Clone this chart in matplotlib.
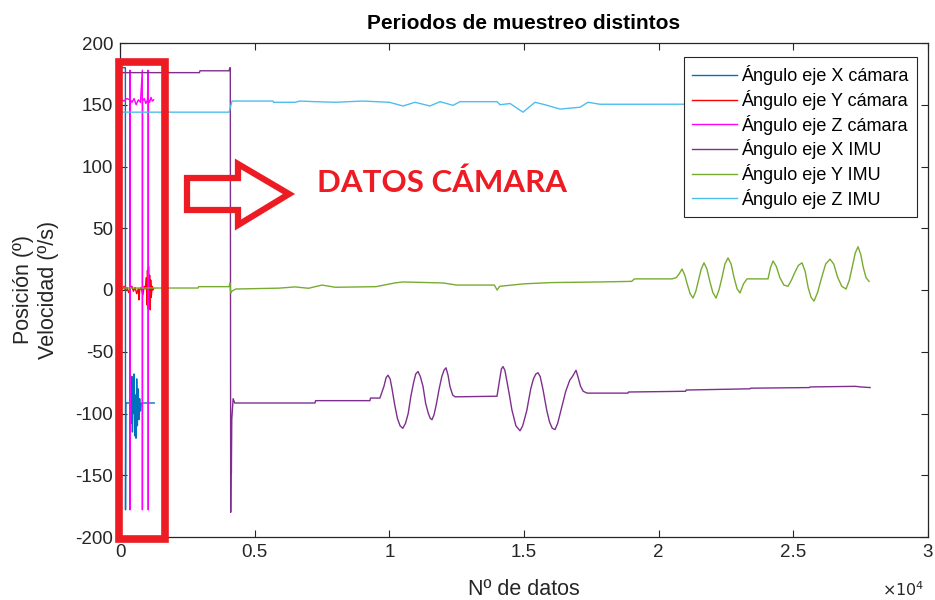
import numpy as np
import matplotlib.pyplot as plt
import matplotlib.patches as mpatches

# camera angles (fewer samples, only at the start of the record)
camX_n = [0, 200, 205, 215, 260, 370, 400, 420, 440, 460, 480, 500, 520, 545, 570, 595, 620, 645, 670,
          700, 730, 760, 790, 815, 830, 1270]
camX = [180, 180, -178, -91.5, -91.5, -91.5, -75, -108, -70, -115, -78, -100, -68, -118, -85, -120, -72,
        -110, -80, -105, -88, -98, -92, -91.5, -91.5, -91.5]

camY_n = [40, 100, 150, 200, 260, 320, 380, 440, 500, 560, 620, 680, 705, 730, 780, 850, 900, 950, 980,
          1000, 1020, 1040, 1060, 1080, 1100, 1120, 1140, 1160, 1190, 1220, 1250]
camY = [2, 1, 3, 0, 2, -2, 1, 3, -1, 2, -3, 1, -8, 0, 2, -4, 3, 1, 10, -12, 16, -15, 19, -10, 12, -16, 8,
        -6, 3, 0, 1]

camZ_n = [70, 150, 250, 360, 368, 372, 380, 450, 520, 600, 680, 760, 828, 832, 840, 900, 960, 1020, 1045,
          1050, 1055, 1100, 1150, 1200, 1250]
camZ = [154, 153, 155, 154, 178, -178, 154, 152, 155, 150, 154, 152, 178, -178, 153, 155, 151, 154, 178,
        -178, 154, 152, 156, 153, 154]

# IMU angles
imuX_n = [0, 2950, 2970, 4050, 4080, 4095, 4110, 4125, 4135, 4150, 4200, 4260, 7240, 7260, 9280, 9300,
          9650, 9800, 9880, 9950, 10030, 10100, 10200, 10300, 10400, 10500, 10600, 10700, 10800, 10900,
          10980, 11065, 11150, 11250, 11350, 11450, 11520, 11585, 11660, 11750, 11850, 11950, 12030, 12104,
          12180, 12250, 12350, 12440,
          13998, 14100, 14160, 14221, 14290, 14350, 14450, 14550, 14700, 14852, 14950, 15100, 15250, 15350,
          15440, 15520, 15600, 15700, 15850, 15950, 16050, 16152, 16250, 16400, 16550, 16700, 16800, 16931,
          17000, 17100, 17200, 17340,
          18860, 18880, 21000, 21020, 23390, 23410, 25600, 25620, 27300, 27500, 27850]
imuX = [176, 176, 177.5, 177.5, 180, 180, -180, -120, -148, -105, -88, -91.5, -91.5, -89.6, -89.6, -87.5,
        -87.5, -78, -71, -69, -72, -80, -93, -104, -110, -112, -108, -100, -86, -75,
        -68, -66, -70, -78, -92, -100, -104, -105, -101, -92, -80, -70, -65, -63,
        -69, -78, -85, -86.5,
        -86, -72, -64, -62, -65, -72, -84, -97, -110, -114, -110, -98, -80, -72,
        -68, -67, -70, -80, -98, -107, -112, -113, -108, -95, -82, -73, -70, -65,
        -70, -78, -82, -83.5,
        -83.5, -82.6, -82, -81, -80, -79.5, -79, -78.5, -78, -78.5, -79]

imuY_n = [0, 2900, 2920, 4050, 4080, 4110, 4150, 4300, 5900, 6500, 7000, 7500, 8000, 9500, 10200, 10500,
          12000, 12500, 13900, 14000, 14100, 15000, 16000, 17800, 19000, 19100, 20500,
          20650, 20760, 20867, 20970, 21070, 21170, 21275, 21380, 21480, 21580, 21684, 21790, 21900, 22010,
          22129, 22240, 22350, 22460, 22575, 22690, 22800, 22910, 23020, 23150, 23280, 24060, 24150, 24246,
          24370, 24500, 24650, 24803, 24930, 25050, 25190, 25323, 25440, 25550, 25660, 25768, 25900, 26050,
          26200, 26362, 26500, 26650, 26800, 26956, 27080, 27200, 27300, 27402, 27500, 27600, 27700, 27810]
imuY = [1.6, 1.6, 2.7, 2.7, 5.7, -2.4, -1, 0.8, 1.5, 2.5, 1.4, 4, 2.2, 2.7, 5.7, 6.5,
        5.7, 4, 4, 0, 3, 5, 6, 6.5, 7, 9, 9,
        10, 13, 17, 12, 4, -3, -6.5, -1, 8, 17, 22, 17, 7, -2,
        -6.5, 0, 10, 21, 26, 21, 10, 1, -2.4, 5, 9, 9, 18, 23.5,
        19, 10, 4, 3, 8, 14, 20, 22, 15, 2, -6, -9, -2, 10,
        21, 25, 21, 10, 3, 0.8, 8, 20, 30, 35, 29, 18, 10, 7]

imuZ_n = [0, 4050, 4100, 4160, 5680, 5700, 6500, 6680, 7240, 8000, 9000, 10000, 10508, 10953, 11510,
          11882, 12365, 12624, 13998, 14110, 14481, 14963, 15409, 15780, 16337, 17080, 17377, 17822, 27850]
imuZ = [144, 144, 148, 153, 153, 152, 152, 153, 152.5, 152, 153, 152, 149, 152, 149,
        152.5, 149.5, 152.5, 152.5, 150, 151, 144, 152, 150, 146.5, 148, 152, 150.4, 150.5]

labels = ['Ángulo eje X cámara', 'Ángulo eje Y cámara', 'Ángulo eje Z cámara',
          'Ángulo eje X IMU', 'Ángulo eje Y IMU', 'Ángulo eje Z IMU']
colors = ['#0072BD', '#FF0000', '#FF00FF', '#7E2F8E', '#77AC30', '#4DBEEE']

xticks = [0, 5000, 10000, 15000, 20000, 25000, 30000]
xticklabels = ['0', '0.5', '1', '1.5', '2', '2.5', '3']
yticks = [-200, -150, -100, -50, 0, 50, 100, 150, 200]

plt.rcParams['font.family'] = ['Liberation Sans', 'DejaVu Sans']
plt.rcParams['axes.unicode_minus'] = False
W, H = 935, 600
fig = plt.figure(figsize=(W / 100, H / 100), dpi=100)
ax = fig.add_axes([120 / W, 1 - 537 / H, 808 / W, 494 / H])

series = [(camX_n, camX), (camY_n, camY), (camZ_n, camZ), (imuX_n, imuX), (imuY_n, imuY), (imuZ_n, imuZ)]
for (n, v), lab, c in zip(series, labels, colors):
    ax.plot(n, v, color=c, lw=1.0, label=lab)

ax.set_xlim(0, 30000)
ax.set_ylim(-200, 200)
ax.set_xticks(xticks)
ax.set_xticklabels(xticklabels)
ax.set_yticks(yticks)
txtc = '#262626'
ax.tick_params(direction='in', top=True, right=True, length=5, width=0.8, colors=txtc,
               labelsize=13.5, pad=5)
for s in ax.spines.values():
    s.set_color(txtc)
    s.set_linewidth(0.9)

ax.set_title('Periodos de muestreo distintos', fontsize=15, fontweight='bold', color='black', pad=10)
ax.set_xlabel('Nº de datos', fontsize=15.5, color=txtc, labelpad=13)
ax.set_ylabel('Posición (º)\nVelocidad (º/s)', fontsize=15.5, color=txtc, labelpad=12)
fig.text(903 / W, 1 - 590 / H, r'$\times10^4$', fontsize=11.5, color=txtc, ha='center', va='center')

leg = ax.legend(loc='upper right', bbox_to_anchor=(1 - 11 / 808, 1 - 14 / 494), fontsize=13,
                frameon=True, fancybox=False, framealpha=1, edgecolor=txtc, borderaxespad=0,
                handlelength=2.5, labelspacing=0.26, borderpad=0.45, handletextpad=0.25)
leg.get_frame().set_linewidth(0.8)


def px(x, y):
    return (x / W, 1 - y / H)


red = '#ED1C24'
# box around the camera samples
rect = mpatches.Rectangle(px(118.5, 539), 46.5 / W, 477 / H, transform=fig.transFigure,
                          fill=False, edgecolor=red, lw=5.5, zorder=10)
fig.patches.append(rect)

# hollow arrow pointing to the label
arrow_pts = [px(187, 178), px(238, 178), px(238, 164), px(289, 194), px(238, 225),
             px(238, 210), px(187, 210)]
arrow = mpatches.Polygon(arrow_pts, closed=True, transform=fig.transFigure, fill=False,
                         edgecolor=red, lw=4.5, joinstyle='miter', zorder=10)
fig.patches.append(arrow)
fig.text(317 / W, 1 - 183 / H, 'DATOS CÁMARA', color=red, fontsize=22.5, fontweight='bold',
         family=['Lato', 'DejaVu Sans'], ha='left', va='center')

fig.savefig('out.png', dpi=100)
